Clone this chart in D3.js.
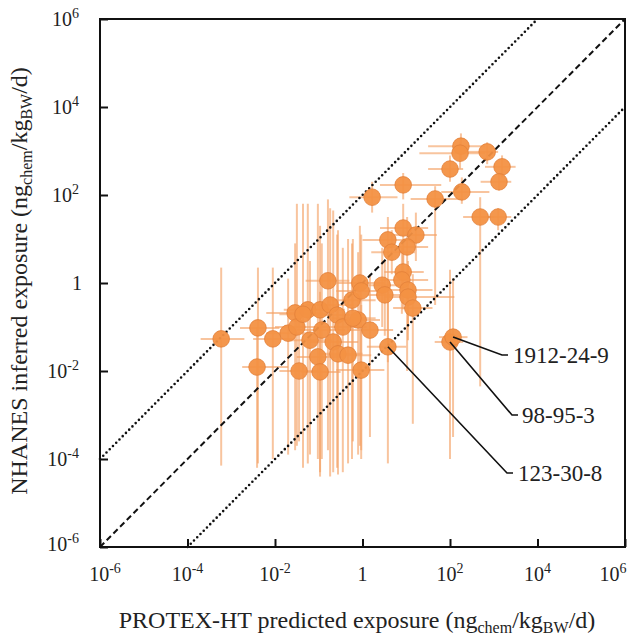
<!DOCTYPE html>
<html>
<head>
<meta charset="utf-8">
<script src="https://cdn.jsdelivr.net/npm/d3@7"></script>
<style>
  body { margin: 0; background: #fff; }
  text { font-family: "Liberation Serif", "DejaVu Serif", serif; fill: #222; }
</style>
</head>
<body>
<svg id="chart" width="641" height="635"></svg>
<script>
// values are log10 exponents (ng_chem/kg_BW/d)
var predExp = [-3.23,-2.39,-2.41,-2.05,-1.70,-1.54,-1.45,-1.25,-0.97,-0.74,-0.58,-0.45,-0.93,-1.20,-0.67,-1.02,-0.56,-0.33,-0.97,-0.03,-0.24,-0.79,-0.06,-0.03,-0.10,0.17,-1.50,0.58,2.00,2.07,0.45,0.51,0.93,0.90,1.04,1.04,1.15,0.93,1.22,0.58,0.67,1.02,0.22,0.93,1.66,2.27,2.00,2.25,2.23,2.85,3.19,3.12,2.69,3.10,-0.22,-1.36];
var nhanesExp = [-1.27,-1.02,-1.91,-1.27,-1.14,-0.68,-2.00,-0.61,-0.61,-0.50,-0.73,-1.00,-1.07,-1.30,-1.34,-1.68,-1.61,-1.64,-2.02,-1.98,-0.39,0.05,0.00,-0.18,-0.84,-1.07,-1.00,-1.45,-1.34,-1.23,-0.05,-0.27,0.25,0.07,-0.16,-0.32,-0.57,1.25,1.09,0.98,0.70,0.82,1.95,2.23,1.91,2.07,2.59,3.11,2.95,2.98,2.64,2.30,1.50,1.50,-0.80,-0.71];
var predLoExp = [-3.7,-2.8,-2.75,-2.5,-2.2,-2.2,-1.9,-1.8,-1.5,-1.3,-1.1,-1.0,-1.5,-1.7,-1.2,-1.5,-1.0,-0.8,-1.4,-0.6,-0.7,-1.3,-0.6,-0.6,-0.6,-0.3,-2.0,0.1,1.65,1.75,0.0,0.1,0.5,0.4,0.6,0.5,0.7,0.4,0.7,0.0,0.2,0.5,-0.3,0.4,1.1,1.8,1.5,1.5,1.3,2.4,2.8,2.7,2.3,2.7,-0.7,-1.9];
var predHiExp = [-2.7,-1.9,-1.7,-1.6,-1.2,-0.9,-1.0,-0.7,-0.4,-0.2,0.0,0.1,-0.4,-0.7,-0.1,-0.5,0.0,0.2,-0.5,0.5,0.3,-0.3,0.5,0.5,0.4,0.7,-1.0,1.0,2.3,2.4,0.9,1.0,1.4,1.5,1.6,2.1,1.6,1.5,1.7,1.1,1.2,1.5,0.8,1.8,2.3,2.9,2.3,2.8,2.8,3.1,3.5,3.4,3.0,3.4,0.3,-0.8];
var nhanesLoExp = [-4.15,-4.1,-4.2,-4.0,-3.9,-3.8,-3.6,-4.1,-4.3,-4.4,-4.2,-4.3,-4.0,-3.9,-4.3,-4.0,-4.35,-4.1,-4.4,-3.8,-4.0,-3.8,-3.7,-4.0,-3.9,-3.5,-3.7,-4.1,-4.0,-3.5,-1.0,-1.2,-0.6,-0.7,-1.0,-1.3,-3.2,0.4,0.5,-1.8,0.2,-2.0,1.6,1.9,-0.5,1.8,2.3,2.8,2.6,2.7,2.4,2.1,-2.35,1.2,-3.6,-4.2];
var nhanesHiExp = [0.35,0.35,-1.0,0.35,0.1,0.9,-0.6,1.8,1.3,1.7,1.1,0.8,0.9,0.5,1.65,1.8,1.2,1.0,-0.2,-0.5,0.9,1.9,1.3,1.1,0.7,0.2,1.8,-0.2,0.3,0.1,0.8,0.5,0.9,0.8,0.5,0.4,0.2,1.8,1.6,1.5,1.2,1.5,2.3,2.5,2.2,2.4,2.9,3.4,3.2,3.2,2.9,2.5,1.95,1.7,1.0,1.8];

var tickExp = [-6, -4, -2, 0, 2, 4, 6];
// 1:1 line and factor-100 bounds (decades offset)
var refOffsets = [0, 2, -2];
var annotLabels = ["1912-24-9", "98-95-3", "123-30-8"];
var annotIndex = [29, 28, 27];

(function () {
    var plotLeft = 100, plotRight = 625, plotTop = 19, plotBottom = 547;
    var svg = d3.select("#chart");

    var x = d3.scaleLog().domain([1e-6, 1e6]).range([plotLeft, plotRight]);
    var y = d3.scaleLog().domain([1e-6, 1e6]).range([plotBottom, plotTop]);
    function p10(e) { return Math.pow(10, e); }

    var points = predExp.map(function (d, i) {
        return {
            x: p10(d), y: p10(nhanesExp[i]),
            xlo: p10(predLoExp[i]), xhi: p10(predHiExp[i]),
            ylo: p10(nhanesLoExp[i]), yhi: p10(nhanesHiExp[i])
        };
    });

    // error bars
    var err = svg.append("g").attr("stroke", "#F4A062").attr("stroke-opacity", 0.62).attr("stroke-width", 2);
    err.selectAll(".vbar").data(points).enter().append("line")
            .attr("class", "vbar")
            .attr("x1", function (d) { return x(d.x); })
            .attr("x2", function (d) { return x(d.x); })
            .attr("y1", function (d) { return y(d.ylo); })
            .attr("y2", function (d) { return y(d.yhi); });
    err.selectAll(".hbar").data(points).enter().append("line")
            .attr("class", "hbar")
            .attr("y1", function (d) { return y(d.y); })
            .attr("y2", function (d) { return y(d.y); })
            .attr("x1", function (d) { return x(d.xlo); })
            .attr("x2", function (d) { return x(d.xhi); });

    // reference lines
    svg.append("g").selectAll("line").data(refOffsets).enter().append("line")
            .attr("x1", function (o) { return x(o > 0 ? 1e-6 : p10(-6 - o)); })
            .attr("y1", function (o) { return y(o > 0 ? p10(-6 + o) : 1e-6); })
            .attr("x2", function (o) { return x(o > 0 ? p10(6 - o) : 1e6); })
            .attr("y2", function (o) { return y(o > 0 ? 1e6 : p10(6 + o)); })
            .attr("stroke", "#111")
            .attr("stroke-width", function (o) { return o === 0 ? 2 : 2.6; })
            .attr("stroke-linecap", function (o) { return o === 0 ? "butt" : "round"; })
            .attr("stroke-dasharray", function (o) { return o === 0 ? "6,3.5" : "0,4.6"; });

    // markers
    svg.append("g").selectAll("circle").data(points).enter().append("circle")
            .attr("cx", function (d) { return x(d.x); })
            .attr("cy", function (d) { return y(d.y); })
            .attr("r", 8.3)
            .attr("fill", "#F39143")
            .attr("fill-opacity", 0.95)
            .attr("stroke", "#E2803A")
            .attr("stroke-width", 0.8);

    // annotations (label anchor positions in pixels)
    var annotPos = [[502, 355, 513], [512, 415, 522], [507, 473, 518]];
    var ann = svg.append("g");
    annotIndex.forEach(function (idx, k) {
        var pt = points[idx], ap = annotPos[k];
        ann.append("polyline")
                .attr("points", [[x(pt.x), y(pt.y)], [ap[0], ap[1]], [ap[0] + 6, ap[1]]].join(" "))
                .attr("fill", "none").attr("stroke", "#111").attr("stroke-width", 1.6);
        ann.append("text").attr("x", ap[2]).attr("y", ap[1] + 8)
                .attr("font-size", 23).text(annotLabels[k]);
    });

    // frame
    svg.append("rect").attr("x", plotLeft).attr("y", plotTop)
            .attr("width", plotRight - plotLeft).attr("height", plotBottom - plotTop)
            .attr("fill", "none").attr("stroke", "#111").attr("stroke-width", 2);

    function supLabel(sel, e) {
        if (e === 0) { sel.append("tspan").text("1"); return; }
        sel.append("tspan").text("10");
        sel.append("tspan").attr("dy", -8).attr("font-size", 14).text(e < 0 ? "-" + (-e) : e);
    }

    // axes
    var xAxis = d3.axisBottom(x).tickValues(tickExp.map(p10)).tickSize(-8).tickFormat("");
    var gx = svg.append("g").attr("transform", "translate(0," + plotBottom + ")").call(xAxis);
    gx.select(".domain").remove();
    gx.selectAll(".tick line").attr("stroke", "#111").attr("stroke-width", 2);

    var yAxis = d3.axisLeft(y).tickValues(tickExp.map(p10)).tickSize(-8).tickFormat("");
    var gy = svg.append("g").attr("transform", "translate(" + plotLeft + ",0)").call(yAxis);
    gy.select(".domain").remove();
    gy.selectAll(".tick line").attr("stroke", "#111").attr("stroke-width", 2);

    svg.append("g").selectAll("text").data(tickExp).enter().append("text")
            .attr("x", function (e) { return x(p10(e)) + (e === -6 ? 5 : e === 6 ? -12 : 0); })
            .attr("y", 581)
            .attr("text-anchor", "middle")
            .attr("font-size", 20)
            .each(function (e) { supLabel(d3.select(this), e); });

    svg.append("g").selectAll("text").data(tickExp).enter().append("text")
            .attr("x", function (e) { return e === 0 ? 82 : 79; })
            .attr("y", function (e) { return y(p10(e)) + 7 - (e === -6 ? 3 : 0); })
            .attr("text-anchor", "end")
            .attr("font-size", 20)
            .each(function (e) { supLabel(d3.select(this), e); });

    // axis titles
    function unitTitle(sel, head) {
        sel.append("tspan").text(head + " (ng");
        sel.append("tspan").attr("dy", 5).attr("font-size", 16).text("chem");
        sel.append("tspan").attr("dy", -5).text("/kg");
        sel.append("tspan").attr("dy", 5).attr("font-size", 16).text("BW");
        sel.append("tspan").attr("dy", -5).text("/d)");
    }
    var xt = svg.append("text").attr("x", 357).attr("y", 628)
            .attr("text-anchor", "middle").attr("font-size", 24);
    unitTitle(xt, "PROTEX-HT predicted exposure");

    var yt = svg.append("text").attr("transform", "translate(27,281) rotate(-90)")
            .attr("text-anchor", "middle").attr("font-size", 24);
    unitTitle(yt, "NHANES inferred exposure");
})();
</script>
</body>
</html>
